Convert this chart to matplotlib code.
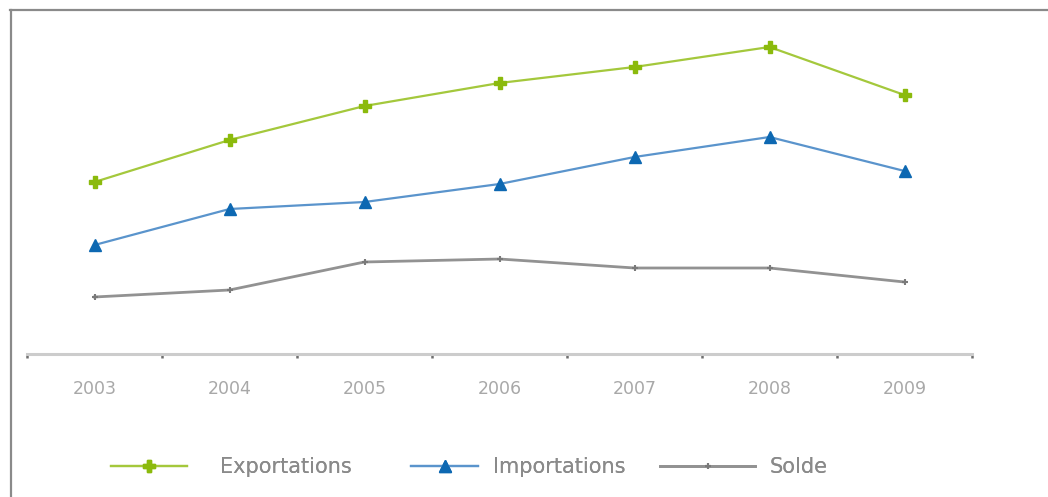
import matplotlib
matplotlib.use("Agg")
import matplotlib.pyplot as plt
from matplotlib.lines import Line2D
import numpy as np

years = ["2003", "2004", "2005", "2006", "2007", "2008", "2009"]
exportations = [17.2, 21.4, 24.8, 27.1, 28.7, 30.7, 25.9]
importations = [10.9, 14.5, 15.2, 17.0, 19.7, 21.7, 18.3]
solde = [5.7, 6.4, 9.2, 9.5, 8.6, 8.6, 7.2]

W, H = 1048, 497
fig = plt.figure(figsize=(W / 100, H / 100), dpi=100)
fig.patch.set_facecolor("white")

ax = fig.add_axes([27 / W, (H - 354) / H, (972 - 27) / W, (354 - 20) / H])
x = np.arange(len(years))

l1, = ax.plot(x, exportations, color="#a4c83c", lw=1.6, marker="P", ms=9,
              mfc="#8bba0c", mec="#8bba0c", label="Exportations", zorder=3)
l2, = ax.plot(x, importations, color="#5a94cc", lw=1.6, marker="^", ms=8,
              mfc="#0d68b2", mec="#0d68b2", label="Importations", zorder=3)
l3, = ax.plot(x, solde, color="#929292", lw=2.0, marker="+", ms=5, mew=1.5,
              mfc="#7a7a7a", mec="#7a7a7a", label="Solde", zorder=3)

ax.set_xlim(-0.5, len(years) - 0.5)
ax.set_ylim(0, 33.4)
for s in ["top", "right", "left"]:
    ax.spines[s].set_visible(False)
ax.spines["bottom"].set_color("#cccccc")
ax.spines["bottom"].set_linewidth(2.2)
ax.set_yticks([])
ax.set_xticks(x)
ax.set_xticklabels(years)
ax.tick_params(axis="x", which="major", length=0, pad=19, labelsize=12.5,
               labelcolor="#a8a8a8")
ax.set_xticks(np.arange(-0.5, len(years)), minor=True)
ax.tick_params(axis="x", which="minor", length=3, width=1.8,
               color="#6e6e6e", direction="out")

# frame lines (top and left) of the picture
fig.add_artist(Line2D([10 / W, 1.0], [1 - 9.5 / H, 1 - 9.5 / H],
                      color="#8a8a8a", lw=1.6, transform=fig.transFigure))
fig.add_artist(Line2D([10.5 / W, 10.5 / W], [0, 1 - 9.5 / H],
                      color="#8a8a8a", lw=1.6, transform=fig.transFigure))

fs = 15
unit = fs * 100 / 72.0  # pixels per font-size unit
legend_items = [
    (l1, "Exportations", 111, 76, 33),
    (l2, "Importations", 411, 67, 15),
    (l3, "Solde", 660, 95, 15),
]
for handle, label, x0, hlen, tpad in legend_items:
    lg = fig.legend([handle], [label], loc="center left",
                    bbox_to_anchor=(x0 / W, 1 - 467 / H), frameon=False,
                    fontsize=fs, handlelength=hlen / unit,
                    handletextpad=tpad / unit, borderpad=0,
                    borderaxespad=0, labelcolor="#8a8a8a")
    fig.add_artist(lg)

fig.savefig("out.png", dpi=100, facecolor="white")
